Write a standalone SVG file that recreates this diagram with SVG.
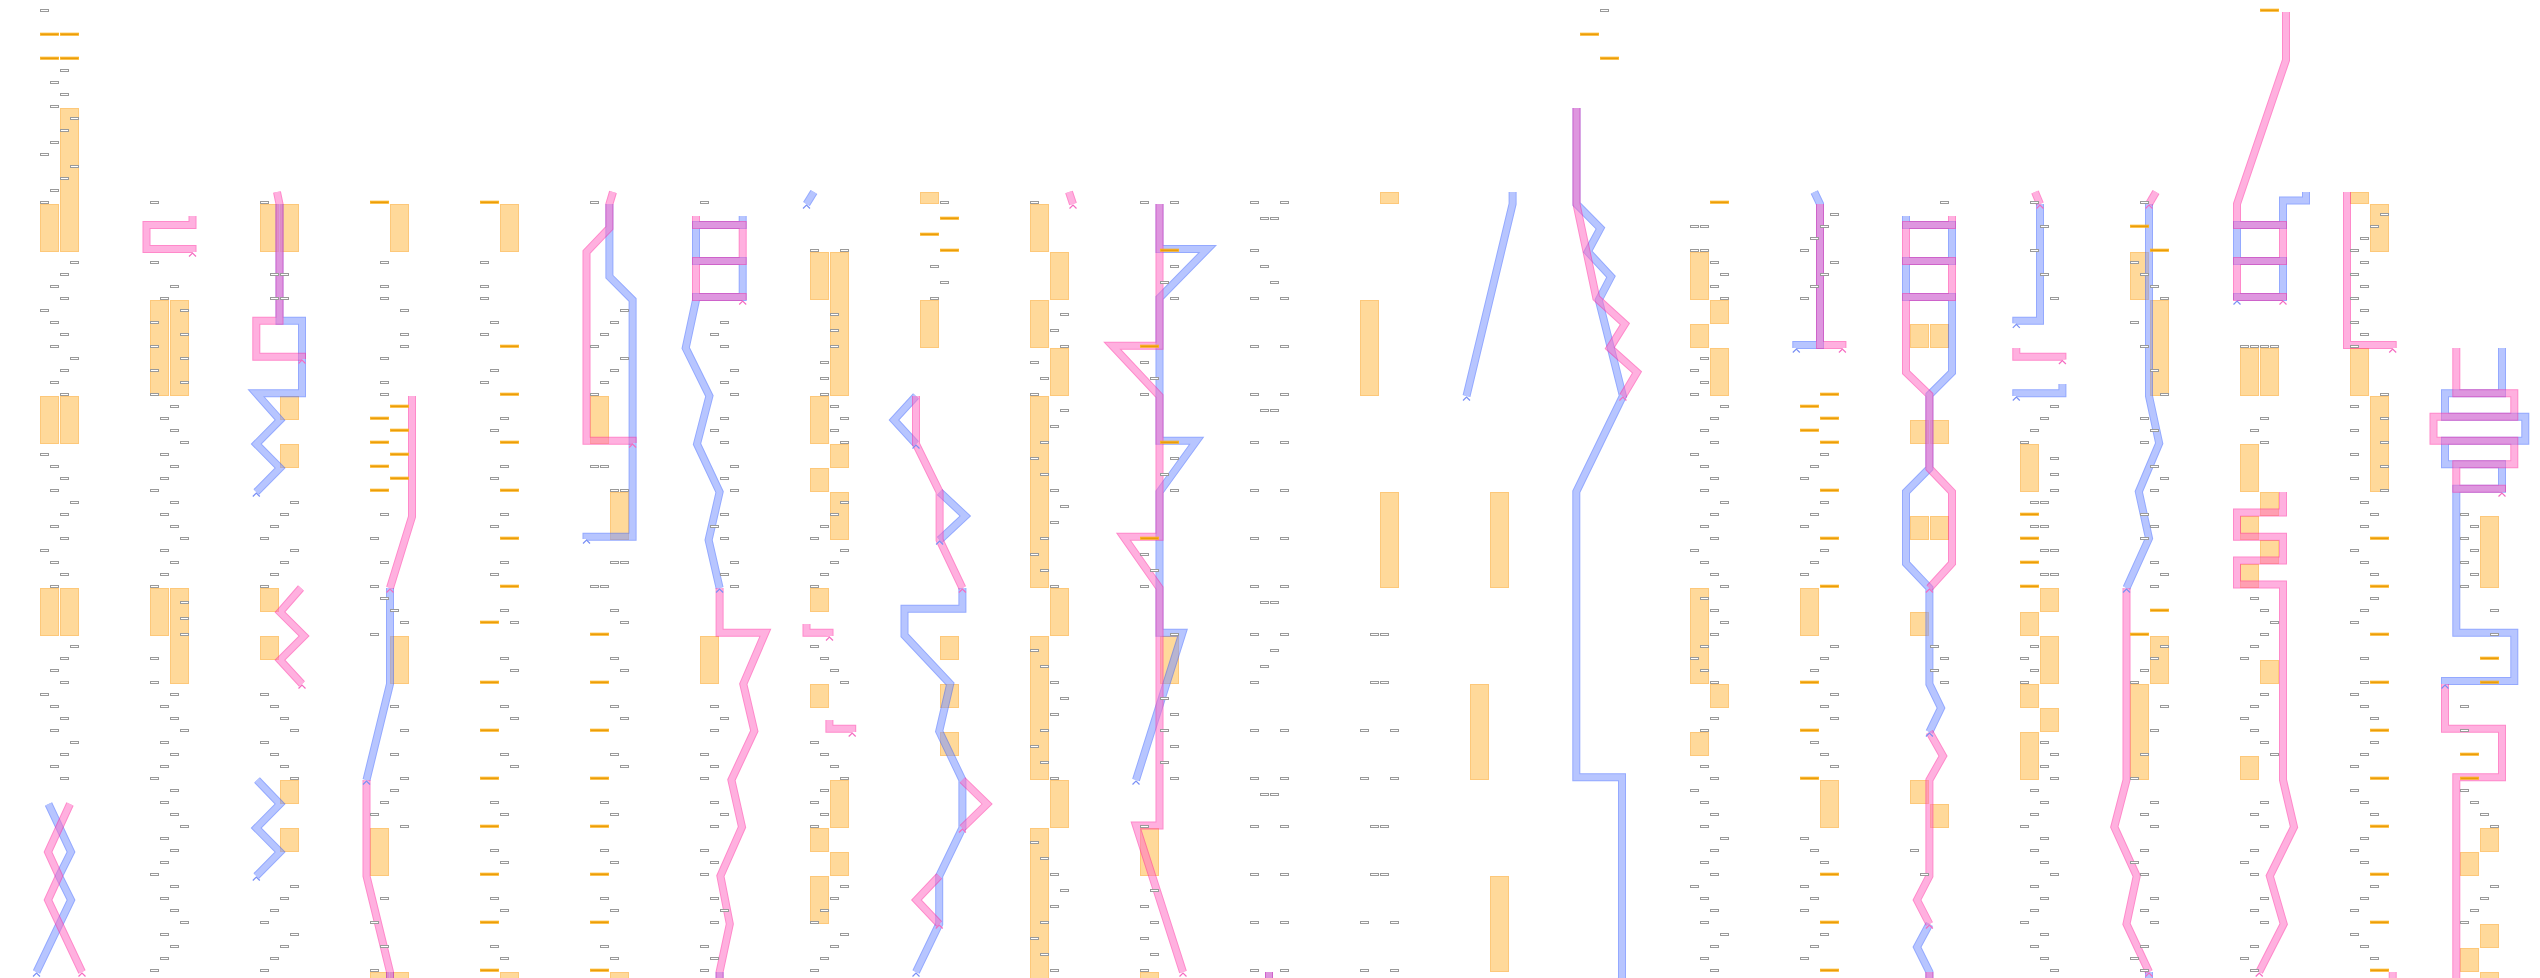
<svg xmlns="http://www.w3.org/2000/svg" xmlns:xlink="http://www.w3.org/1999/xlink" width="2540" height="978" viewBox="0 0 2540 978">
<style>
.tk{fill:#fff;stroke:#9a9a9a;stroke-width:1}
.ot{fill:#e39500;stroke:#fcb320;stroke-width:1}
.b{fill:#ffd99a;stroke:#fdc87a;stroke-width:1}
.pk,.bl{opacity:.55}
.e,.c{fill:none;stroke-linejoin:miter;stroke-miterlimit:3}
.pk .e{stroke:#ff2aa0;stroke-width:8}
.pk .c{stroke:#ff70c6;stroke-width:6}
.bl .e{stroke:#3d64ff;stroke-width:8}
.bl .c{stroke:#7d97ff;stroke-width:6}
.cp{fill:none;stroke:#f56cc2;stroke-width:1.2}
.cb{fill:none;stroke:#7a90f5;stroke-width:1.2}
</style>
<defs>
<rect id="t" x="0.5" y="-0.5" width="8" height="2" class="tk"/>
<rect id="o" x="0.5" y="-0.8" width="18" height="2" class="ot"/>
<path id="cr" d="M-3.5,4.5 L0,1 L3.5,4.5"/>
<path id="b0" d="M48.5,804 L71,852 L59,876 L71,900 L36.5,972"/>
<path id="b2" d="M279.5,204 V320.8 H302 V393.3 H256.3 L280,420 L256.3,444 L280,468 L256.3,492"/>
<path id="b2b" d="M257,780 L280,804 L256.3,828 L280,852 L256.3,876"/>
<path id="b3" d="M390,588 V684 L366.5,780"/>
<path id="b3b" d="M390,972 V990"/>
<path id="b5" d="M609.4,204 V276.7 L632.6,300 V536.8 H586.5 V539"/>
<path id="b6" d="M742.7,216 V225 H696 V261 H742.7 V297 H696 V300 L685.7,348 L709.4,396 L697,444 L719.6,492 L708.6,540 L719.6,588"/>
<path id="b6b" d="M719.6,972 V990"/>
<path id="b7" d="M813.9,192 L806.5,204"/>
<path id="b8a" d="M916,396 L894,420 L916,444"/>
<path id="b8b" d="M939.6,492 L965.3,516 L939.6,540"/>
<path id="b8c" d="M962.4,588 V608.8 H904.5 V635.3 L950.2,684 L939.2,731.3 L962.4,780 V828 L939.2,876 V924 L916,972"/>
<path id="b10" d="M1159.5,204 V249 H1207.5 L1159.5,298 V440.8 H1196.5 L1159.5,492 V632.8 H1182.5 L1136,780"/>
<path id="b11" d="M1269,972 V990"/>
<path id="b13" d="M1512.6,192 V204 L1466.5,396"/>
<path id="b14" d="M1576.5,108 V204 L1600.4,228.3 L1587.8,251.7 L1611,276.7 L1598.8,300 L1622.9,396 L1576.3,491.7 V777.2 H1622 V978 L1618,992"/>
<path id="b16" d="M1814.3,192 L1820,204 V345 H1796.3 V348"/>
<path id="b17" d="M1906,216 V225 H1952 V261 H1906 V297 H1952 V372.3 L1929.4,395 V468.3 L1906,492 V563.3 L1929.4,588 V684 L1941,708 L1929.4,732"/>
<path id="b17b" d="M1929.4,924 L1917,947 L1929.4,972 V990"/>
<path id="b18" d="M2040,204 V320.8 H2016.3 V323.3"/>
<path id="b18b" d="M2062.4,384 V393.3 H2016.3 V396"/>
<path id="b19" d="M2149,204 V396 L2159.2,443.3 L2138.8,491.7 L2149,538.3 L2126.5,588"/>
<path id="b19b" d="M2149,972 V990"/>
<path id="b20" d="M2306,192 V200.5 H2283 V225 H2237 V261 H2283 V297 H2237 V300"/>
<path id="b22" d="M2502,348 V393.3 H2445 V416.8 H2525.3 V440.8 H2445 V464.2 H2502 V488.8 H2456.3 V632.8 H2514.3 V681 H2445 V684"/>
<path id="q0" d="M70,804 L48,852 L59,876 L48,900 L82,972"/>
<path id="q1" d="M192.5,216 V225 H146.5 V249 H192.5 V252"/>
<path id="q2" d="M277,192 L279.5,204 V320.8 H256.3 V356.7 H302 V359"/>
<path id="q2b" d="M301,588 L280,612 L304,636 L280,660 L302,684"/>
<path id="q3" d="M412,396 V516.7 L390,588"/>
<path id="q3b" d="M366.5,780 V876 L390,972 V990"/>
<path id="q5" d="M613,192 L609.4,204 V228 L586.5,252 V440.8 H632.6 V443"/>
<path id="q6" d="M696,216 V225 H742.7 V261 H696 V297 H742.7 V300"/>
<path id="q6b" d="M719.6,588 V632.8 H765.3 L743.3,684 L754.3,731 L731.4,780 L742,827 L720.4,876 L729.8,924 L719.6,972 V990"/>
<path id="q7a" d="M806.5,624 V632.8 H829.5 V636"/>
<path id="q7b" d="M829.4,720 V728.8 H852.2 V732"/>
<path id="q8" d="M916,396 V444 L939.6,492 V540 L962.4,588"/>
<path id="q8b" d="M962.4,780 L987,804 L962.4,828"/>
<path id="q8c" d="M939.2,876 L916.5,900 L939.2,924"/>
<path id="q9" d="M1069,192 L1073,204"/>
<path id="q10" d="M1159.5,204 V345.8 H1112.4 L1159.5,396 V536.8 H1123.6 L1159.5,588 V825.5 H1136 L1183,972"/>
<path id="q11" d="M1269,972 V990"/>
<path id="q14" d="M1576.5,108 V204 L1596.3,298 L1624.9,324 L1609.8,348 L1637,372.3 L1622.9,396"/>
<path id="q16" d="M1820,204 V345 H1842.4 V348"/>
<path id="q17" d="M1952,216 V225 H1906 V261 H1952 V297 H1906 V372.3 L1929.4,395 V468.3 L1952,492 V563.3 L1929.4,588"/>
<path id="q17b" d="M1929.4,732 L1943,756 L1929.4,780 V876 L1917,900 L1929.4,924"/>
<path id="q17c" d="M1929.4,972 V990"/>
<path id="q18" d="M2035,192 L2040,204"/>
<path id="q18b" d="M2016.3,348 V356.7 H2062.4 V359.5"/>
<path id="q19" d="M2156,192 L2149,204"/>
<path id="q19b" d="M2126.5,588 V780 L2114.3,827 L2136.7,876 L2126.5,924 L2149,972"/>
<path id="q20" d="M2286,12 V60 L2237,204 V225 H2283 V261 H2237 V297 H2283 V300"/>
<path id="q20b" d="M2283,492 V512.5 H2237 V536.8 H2283 V560.5 H2237 V584.5 H2283 V780 L2294,827 L2269.8,876 L2283.7,924 L2259.2,972"/>
<path id="q21" d="M2347,192 V345 H2392.7 V348"/>
<path id="q21b" d="M2392.7,972 V990"/>
<path id="q22" d="M2456.3,348 V393.3 H2514.3 V416.8 H2433.5 V440.8 H2514.3 V464.2 H2456.3 V488.8 H2502 V492"/>
<path id="q22b" d="M2445,684 V728.8 H2502 V777.2 H2456.3 V990"/>
</defs>
<rect width="2540" height="978" fill="#fff"/>

<g id="blocks">
<g id="col-00-blocks"><rect class="b" x="60.5" y="108.5" width="18" height="143"/><rect class="b" x="40.5" y="204.5" width="18" height="47"/><rect class="b" x="40.5" y="396.5" width="18" height="47"/><rect class="b" x="60.5" y="396.5" width="18" height="47"/><rect class="b" x="40.5" y="588.5" width="18" height="47"/><rect class="b" x="60.5" y="588.5" width="18" height="47"/></g>
<g id="col-01-blocks"><rect class="b" x="150.5" y="300.5" width="18" height="95"/><rect class="b" x="170.5" y="300.5" width="18" height="95"/><rect class="b" x="150.5" y="588.5" width="18" height="47"/><rect class="b" x="170.5" y="588.5" width="18" height="95"/></g>
<g id="col-02-blocks"><rect class="b" x="260.5" y="204.5" width="18" height="47"/><rect class="b" x="280.5" y="204.5" width="18" height="47"/><rect class="b" x="280.5" y="396.5" width="18" height="23"/><rect class="b" x="280.5" y="444.5" width="18" height="23"/><rect class="b" x="260.5" y="588.5" width="18" height="23"/><rect class="b" x="260.5" y="636.5" width="18" height="23"/><rect class="b" x="280.5" y="780.5" width="18" height="23"/><rect class="b" x="280.5" y="828.5" width="18" height="23"/></g>
<g id="col-03-blocks"><rect class="b" x="390.5" y="204.5" width="18" height="47"/><rect class="b" x="390.5" y="636.5" width="18" height="47"/><rect class="b" x="370.5" y="828.5" width="18" height="47"/><rect class="b" x="370.5" y="972.5" width="18" height="20"/><rect class="b" x="390.5" y="972.5" width="18" height="20"/></g>
<g id="col-04-blocks"><rect class="b" x="500.5" y="204.5" width="18" height="47"/><rect class="b" x="500.5" y="972.5" width="18" height="20"/></g>
<g id="col-05-blocks"><rect class="b" x="590.5" y="396.5" width="18" height="47"/><rect class="b" x="610.5" y="492.5" width="18" height="47"/><rect class="b" x="610.5" y="972.5" width="18" height="20"/></g>
<g id="col-06-blocks"><rect class="b" x="700.5" y="636.5" width="18" height="47"/></g>
<g id="col-07-blocks"><rect class="b" x="810.5" y="252.5" width="18" height="47"/><rect class="b" x="830.5" y="252.5" width="18" height="143"/><rect class="b" x="810.5" y="396.5" width="18" height="47"/><rect class="b" x="830.5" y="444.5" width="18" height="23"/><rect class="b" x="810.5" y="468.5" width="18" height="23"/><rect class="b" x="830.5" y="492.5" width="18" height="47"/><rect class="b" x="810.5" y="588.5" width="18" height="23"/><rect class="b" x="810.5" y="684.5" width="18" height="23"/><rect class="b" x="830.5" y="780.5" width="18" height="47"/><rect class="b" x="810.5" y="828.5" width="18" height="23"/><rect class="b" x="830.5" y="852.5" width="18" height="23"/><rect class="b" x="810.5" y="876.5" width="18" height="47"/></g>
<g id="col-08-blocks"><rect class="b" x="920.5" y="192.5" width="18" height="11"/><rect class="b" x="920.5" y="300.5" width="18" height="47"/><rect class="b" x="940.5" y="636.5" width="18" height="23"/><rect class="b" x="940.5" y="684.5" width="18" height="23"/><rect class="b" x="940.5" y="732.5" width="18" height="23"/></g>
<g id="col-09-blocks"><rect class="b" x="1030.5" y="204.5" width="18" height="47"/><rect class="b" x="1050.5" y="252.5" width="18" height="47"/><rect class="b" x="1030.5" y="300.5" width="18" height="47"/><rect class="b" x="1050.5" y="348.5" width="18" height="47"/><rect class="b" x="1030.5" y="396.5" width="18" height="191"/><rect class="b" x="1050.5" y="588.5" width="18" height="47"/><rect class="b" x="1030.5" y="636.5" width="18" height="143"/><rect class="b" x="1050.5" y="780.5" width="18" height="47"/><rect class="b" x="1030.5" y="828.5" width="18" height="162"/></g>
<g id="col-10-blocks"><rect class="b" x="1160.5" y="636.5" width="18" height="47"/><rect class="b" x="1140.5" y="828.5" width="18" height="47"/><rect class="b" x="1140.5" y="972.5" width="18" height="20"/></g>
<g id="col-12-blocks"><rect class="b" x="1380.5" y="192.5" width="18" height="11"/><rect class="b" x="1360.5" y="300.5" width="18" height="95"/><rect class="b" x="1380.5" y="492.5" width="18" height="95"/></g>
<g id="col-13-blocks"><rect class="b" x="1490.5" y="492.5" width="18" height="95"/><rect class="b" x="1470.5" y="684.5" width="18" height="95"/><rect class="b" x="1490.5" y="876.5" width="18" height="95"/></g>
<g id="col-15-blocks"><rect class="b" x="1690.5" y="252.5" width="18" height="47"/><rect class="b" x="1710.5" y="300.5" width="18" height="23"/><rect class="b" x="1690.5" y="324.5" width="18" height="23"/><rect class="b" x="1710.5" y="348.5" width="18" height="47"/><rect class="b" x="1690.5" y="588.5" width="18" height="95"/><rect class="b" x="1710.5" y="684.5" width="18" height="23"/><rect class="b" x="1690.5" y="732.5" width="18" height="23"/></g>
<g id="col-16-blocks"><rect class="b" x="1800.5" y="588.5" width="18" height="47"/><rect class="b" x="1820.5" y="780.5" width="18" height="47"/></g>
<g id="col-17-blocks"><rect class="b" x="1910.5" y="324.5" width="18" height="23"/><rect class="b" x="1930.5" y="324.5" width="18" height="23"/><rect class="b" x="1910.5" y="420.5" width="18" height="23"/><rect class="b" x="1930.5" y="420.5" width="18" height="23"/><rect class="b" x="1910.5" y="516.5" width="18" height="23"/><rect class="b" x="1930.5" y="516.5" width="18" height="23"/><rect class="b" x="1910.5" y="612.5" width="18" height="23"/><rect class="b" x="1910.5" y="780.5" width="18" height="23"/><rect class="b" x="1930.5" y="804.5" width="18" height="23"/></g>
<g id="col-18-blocks"><rect class="b" x="2020.5" y="444.5" width="18" height="47"/><rect class="b" x="2040.5" y="588.5" width="18" height="23"/><rect class="b" x="2020.5" y="612.5" width="18" height="23"/><rect class="b" x="2040.5" y="636.5" width="18" height="47"/><rect class="b" x="2020.5" y="684.5" width="18" height="23"/><rect class="b" x="2040.5" y="708.5" width="18" height="23"/><rect class="b" x="2020.5" y="732.5" width="18" height="47"/></g>
<g id="col-19-blocks"><rect class="b" x="2130.5" y="252.5" width="18" height="47"/><rect class="b" x="2150.5" y="300.5" width="18" height="95"/><rect class="b" x="2150.5" y="636.5" width="18" height="47"/><rect class="b" x="2130.5" y="684.5" width="18" height="95"/></g>
<g id="col-20-blocks"><rect class="b" x="2240.5" y="348.5" width="18" height="47"/><rect class="b" x="2260.5" y="348.5" width="18" height="47"/><rect class="b" x="2240.5" y="444.5" width="18" height="47"/><rect class="b" x="2260.5" y="492.5" width="18" height="23"/><rect class="b" x="2240.5" y="516.5" width="18" height="23"/><rect class="b" x="2260.5" y="540.5" width="18" height="23"/><rect class="b" x="2240.5" y="564.5" width="18" height="23"/><rect class="b" x="2260.5" y="660.5" width="18" height="23"/><rect class="b" x="2240.5" y="756.5" width="18" height="23"/></g>
<g id="col-21-blocks"><rect class="b" x="2350.5" y="192.5" width="18" height="11"/><rect class="b" x="2370.5" y="204.5" width="18" height="47"/><rect class="b" x="2350.5" y="348.5" width="18" height="47"/><rect class="b" x="2370.5" y="396.5" width="18" height="95"/></g>
<g id="col-22-blocks"><rect class="b" x="2480.5" y="516.5" width="18" height="71"/><rect class="b" x="2480.5" y="828.5" width="18" height="23"/><rect class="b" x="2460.5" y="852.5" width="18" height="23"/><rect class="b" x="2480.5" y="924.5" width="18" height="23"/><rect class="b" x="2460.5" y="948.5" width="18" height="23"/><rect class="b" x="2480.5" y="972.5" width="18" height="20"/></g>
</g>

<g id="connectors">
<g class="bl"><use href="#b0" class="e"/><use href="#b0" class="c"/></g>
<g class="bl"><use href="#b2" class="e"/><use href="#b2" class="c"/></g>
<g class="bl"><use href="#b2b" class="e"/><use href="#b2b" class="c"/></g>
<g class="bl"><use href="#b3" class="e"/><use href="#b3" class="c"/></g>
<g class="bl"><use href="#b3b" class="e"/><use href="#b3b" class="c"/></g>
<g class="bl"><use href="#b5" class="e"/><use href="#b5" class="c"/></g>
<g class="bl"><use href="#b6" class="e"/><use href="#b6" class="c"/></g>
<g class="bl"><use href="#b6b" class="e"/><use href="#b6b" class="c"/></g>
<g class="bl"><use href="#b7" class="e"/><use href="#b7" class="c"/></g>
<g class="bl"><use href="#b8a" class="e"/><use href="#b8a" class="c"/></g>
<g class="bl"><use href="#b8b" class="e"/><use href="#b8b" class="c"/></g>
<g class="bl"><use href="#b8c" class="e"/><use href="#b8c" class="c"/></g>
<g class="bl"><use href="#b10" class="e"/><use href="#b10" class="c"/></g>
<g class="bl"><use href="#b11" class="e"/><use href="#b11" class="c"/></g>
<g class="bl"><use href="#b13" class="e"/><use href="#b13" class="c"/></g>
<g class="bl"><use href="#b14" class="e"/><use href="#b14" class="c"/></g>
<g class="bl"><use href="#b16" class="e"/><use href="#b16" class="c"/></g>
<g class="bl"><use href="#b17" class="e"/><use href="#b17" class="c"/></g>
<g class="bl"><use href="#b17b" class="e"/><use href="#b17b" class="c"/></g>
<g class="bl"><use href="#b18" class="e"/><use href="#b18" class="c"/></g>
<g class="bl"><use href="#b18b" class="e"/><use href="#b18b" class="c"/></g>
<g class="bl"><use href="#b19" class="e"/><use href="#b19" class="c"/></g>
<g class="bl"><use href="#b19b" class="e"/><use href="#b19b" class="c"/></g>
<g class="bl"><use href="#b20" class="e"/><use href="#b20" class="c"/></g>
<g class="bl"><use href="#b22" class="e"/><use href="#b22" class="c"/></g>
<g class="pk"><use href="#q0" class="e"/><use href="#q0" class="c"/></g>
<g class="pk"><use href="#q1" class="e"/><use href="#q1" class="c"/></g>
<g class="pk"><use href="#q2" class="e"/><use href="#q2" class="c"/></g>
<g class="pk"><use href="#q2b" class="e"/><use href="#q2b" class="c"/></g>
<g class="pk"><use href="#q3" class="e"/><use href="#q3" class="c"/></g>
<g class="pk"><use href="#q3b" class="e"/><use href="#q3b" class="c"/></g>
<g class="pk"><use href="#q5" class="e"/><use href="#q5" class="c"/></g>
<g class="pk"><use href="#q6" class="e"/><use href="#q6" class="c"/></g>
<g class="pk"><use href="#q6b" class="e"/><use href="#q6b" class="c"/></g>
<g class="pk"><use href="#q7a" class="e"/><use href="#q7a" class="c"/></g>
<g class="pk"><use href="#q7b" class="e"/><use href="#q7b" class="c"/></g>
<g class="pk"><use href="#q8" class="e"/><use href="#q8" class="c"/></g>
<g class="pk"><use href="#q8b" class="e"/><use href="#q8b" class="c"/></g>
<g class="pk"><use href="#q8c" class="e"/><use href="#q8c" class="c"/></g>
<g class="pk"><use href="#q9" class="e"/><use href="#q9" class="c"/></g>
<g class="pk"><use href="#q10" class="e"/><use href="#q10" class="c"/></g>
<g class="pk"><use href="#q11" class="e"/><use href="#q11" class="c"/></g>
<g class="pk"><use href="#q14" class="e"/><use href="#q14" class="c"/></g>
<g class="pk"><use href="#q16" class="e"/><use href="#q16" class="c"/></g>
<g class="pk"><use href="#q17" class="e"/><use href="#q17" class="c"/></g>
<g class="pk"><use href="#q17b" class="e"/><use href="#q17b" class="c"/></g>
<g class="pk"><use href="#q17c" class="e"/><use href="#q17c" class="c"/></g>
<g class="pk"><use href="#q18" class="e"/><use href="#q18" class="c"/></g>
<g class="pk"><use href="#q18b" class="e"/><use href="#q18b" class="c"/></g>
<g class="pk"><use href="#q19" class="e"/><use href="#q19" class="c"/></g>
<g class="pk"><use href="#q19b" class="e"/><use href="#q19b" class="c"/></g>
<g class="pk"><use href="#q20" class="e"/><use href="#q20" class="c"/></g>
<g class="pk"><use href="#q20b" class="e"/><use href="#q20b" class="c"/></g>
<g class="pk"><use href="#q21" class="e"/><use href="#q21" class="c"/></g>
<g class="pk"><use href="#q21b" class="e"/><use href="#q21b" class="c"/></g>
<g class="pk"><use href="#q22" class="e"/><use href="#q22" class="c"/></g>
<g class="pk"><use href="#q22b" class="e"/><use href="#q22b" class="c"/></g>
<g id="arrowheads">
<use href="#cr" class="cp" x="82" y="972"/><use href="#cr" class="cp" x="192.5" y="252"/><use href="#cr" class="cp" x="302" y="359"/><use href="#cr" class="cp" x="302" y="684"/><use href="#cr" class="cp" x="390" y="588"/><use href="#cr" class="cp" x="632.6" y="443"/><use href="#cr" class="cp" x="742.7" y="300"/><use href="#cr" class="cp" x="829.5" y="636"/><use href="#cr" class="cp" x="852.2" y="732"/><use href="#cr" class="cp" x="962.4" y="588"/><use href="#cr" class="cp" x="962.4" y="828"/><use href="#cr" class="cp" x="939.2" y="924"/><use href="#cr" class="cp" x="1073" y="204"/><use href="#cr" class="cp" x="1183" y="972"/><use href="#cr" class="cp" x="1622.9" y="396"/><use href="#cr" class="cp" x="1842.4" y="348"/><use href="#cr" class="cp" x="1929.4" y="588"/><use href="#cr" class="cp" x="1929.4" y="924"/><use href="#cr" class="cp" x="2040" y="204"/><use href="#cr" class="cp" x="2062.4" y="359.5"/><use href="#cr" class="cp" x="2149" y="204"/><use href="#cr" class="cp" x="2149" y="972"/><use href="#cr" class="cp" x="2283" y="300"/><use href="#cr" class="cp" x="2259.2" y="972"/><use href="#cr" class="cp" x="2392.7" y="348"/><use href="#cr" class="cp" x="2502" y="492"/>
<use href="#cr" class="cb" x="36.5" y="972"/><use href="#cr" class="cb" x="256.3" y="492"/><use href="#cr" class="cb" x="256.3" y="876"/><use href="#cr" class="cb" x="366.5" y="780"/><use href="#cr" class="cb" x="586.5" y="539"/><use href="#cr" class="cb" x="719.6" y="588"/><use href="#cr" class="cb" x="806.5" y="204"/><use href="#cr" class="cb" x="916" y="444"/><use href="#cr" class="cb" x="939.6" y="540"/><use href="#cr" class="cb" x="916" y="972"/><use href="#cr" class="cb" x="1136" y="780"/><use href="#cr" class="cb" x="1466.5" y="396"/><use href="#cr" class="cb" x="1796.3" y="348"/><use href="#cr" class="cb" x="1929.4" y="732"/><use href="#cr" class="cb" x="2016.3" y="323.3"/><use href="#cr" class="cb" x="2016.3" y="396"/><use href="#cr" class="cb" x="2126.5" y="588"/><use href="#cr" class="cb" x="2237" y="300"/><use href="#cr" class="cb" x="2445" y="684"/>
</g>
</g>

<g id="ticks">
<g id="col-00"><use href="#t" x="40" y="10"/><use href="#t" x="60" y="70"/><use href="#t" x="50" y="82"/><use href="#t" x="60" y="94"/><use href="#t" x="50" y="106"/><use href="#t" x="70" y="118"/><use href="#t" x="60" y="130"/><use href="#t" x="50" y="142"/><use href="#t" x="40" y="154"/><use href="#t" x="70" y="166"/><use href="#t" x="60" y="178"/><use href="#t" x="50" y="190"/><use href="#t" x="40" y="202"/><use href="#t" x="70" y="262"/><use href="#t" x="60" y="274"/><use href="#t" x="50" y="286"/><use href="#t" x="60" y="298"/><use href="#t" x="40" y="310"/><use href="#t" x="50" y="322"/><use href="#t" x="60" y="334"/><use href="#t" x="50" y="346"/><use href="#t" x="70" y="358"/><use href="#t" x="60" y="370"/><use href="#t" x="50" y="382"/><use href="#t" x="60" y="394"/><use href="#t" x="40" y="454"/><use href="#t" x="50" y="466"/><use href="#t" x="60" y="478"/><use href="#t" x="50" y="490"/><use href="#t" x="70" y="502"/><use href="#t" x="60" y="514"/><use href="#t" x="50" y="526"/><use href="#t" x="60" y="538"/><use href="#t" x="40" y="550"/><use href="#t" x="50" y="562"/><use href="#t" x="60" y="574"/><use href="#t" x="50" y="586"/><use href="#t" x="70" y="646"/><use href="#t" x="60" y="658"/><use href="#t" x="50" y="670"/><use href="#t" x="60" y="682"/><use href="#t" x="40" y="694"/><use href="#t" x="50" y="706"/><use href="#t" x="60" y="718"/><use href="#t" x="50" y="730"/><use href="#t" x="70" y="742"/><use href="#t" x="60" y="754"/><use href="#t" x="50" y="766"/><use href="#t" x="60" y="778"/><use href="#o" x="40" y="34"/><use href="#o" x="60" y="34"/><use href="#o" x="40" y="58"/><use href="#o" x="60" y="58"/></g>
<g id="col-01"><use href="#t" x="150" y="202"/><use href="#t" x="150" y="262"/><use href="#t" x="170" y="286"/><use href="#t" x="160" y="298"/><use href="#t" x="180" y="310"/><use href="#t" x="150" y="322"/><use href="#t" x="180" y="334"/><use href="#t" x="150" y="346"/><use href="#t" x="180" y="358"/><use href="#t" x="150" y="370"/><use href="#t" x="180" y="382"/><use href="#t" x="150" y="394"/><use href="#t" x="170" y="406"/><use href="#t" x="160" y="418"/><use href="#t" x="170" y="430"/><use href="#t" x="180" y="442"/><use href="#t" x="160" y="454"/><use href="#t" x="170" y="466"/><use href="#t" x="160" y="478"/><use href="#t" x="150" y="490"/><use href="#t" x="170" y="502"/><use href="#t" x="160" y="514"/><use href="#t" x="170" y="526"/><use href="#t" x="180" y="538"/><use href="#t" x="160" y="550"/><use href="#t" x="170" y="562"/><use href="#t" x="160" y="574"/><use href="#t" x="150" y="586"/><use href="#t" x="180" y="602"/><use href="#t" x="180" y="618"/><use href="#t" x="180" y="634"/><use href="#t" x="150" y="658"/><use href="#t" x="150" y="682"/><use href="#t" x="170" y="694"/><use href="#t" x="160" y="706"/><use href="#t" x="170" y="718"/><use href="#t" x="180" y="730"/><use href="#t" x="160" y="742"/><use href="#t" x="170" y="754"/><use href="#t" x="160" y="766"/><use href="#t" x="150" y="778"/><use href="#t" x="170" y="790"/><use href="#t" x="160" y="802"/><use href="#t" x="170" y="814"/><use href="#t" x="180" y="826"/><use href="#t" x="160" y="838"/><use href="#t" x="170" y="850"/><use href="#t" x="160" y="862"/><use href="#t" x="150" y="874"/><use href="#t" x="170" y="886"/><use href="#t" x="160" y="898"/><use href="#t" x="170" y="910"/><use href="#t" x="180" y="922"/><use href="#t" x="160" y="934"/><use href="#t" x="170" y="946"/><use href="#t" x="160" y="958"/><use href="#t" x="150" y="970"/></g>
<g id="col-02"><use href="#t" x="260" y="202"/><use href="#t" x="270" y="274"/><use href="#t" x="280" y="274"/><use href="#t" x="270" y="298"/><use href="#t" x="280" y="298"/><use href="#t" x="290" y="502"/><use href="#t" x="280" y="514"/><use href="#t" x="270" y="526"/><use href="#t" x="260" y="538"/><use href="#t" x="290" y="550"/><use href="#t" x="280" y="562"/><use href="#t" x="270" y="574"/><use href="#t" x="260" y="586"/><use href="#t" x="260" y="694"/><use href="#t" x="270" y="706"/><use href="#t" x="280" y="718"/><use href="#t" x="290" y="730"/><use href="#t" x="260" y="742"/><use href="#t" x="270" y="754"/><use href="#t" x="280" y="766"/><use href="#t" x="290" y="778"/><use href="#t" x="290" y="886"/><use href="#t" x="280" y="898"/><use href="#t" x="270" y="910"/><use href="#t" x="260" y="922"/><use href="#t" x="290" y="934"/><use href="#t" x="280" y="946"/><use href="#t" x="270" y="958"/><use href="#t" x="260" y="970"/></g>
<g id="col-03"><use href="#t" x="380" y="262"/><use href="#t" x="380" y="286"/><use href="#t" x="380" y="298"/><use href="#t" x="400" y="310"/><use href="#t" x="400" y="334"/><use href="#t" x="400" y="346"/><use href="#t" x="380" y="358"/><use href="#t" x="380" y="382"/><use href="#t" x="380" y="394"/><use href="#t" x="380" y="514"/><use href="#t" x="370" y="538"/><use href="#t" x="380" y="562"/><use href="#t" x="370" y="586"/><use href="#t" x="380" y="598"/><use href="#t" x="390" y="610"/><use href="#t" x="400" y="622"/><use href="#t" x="370" y="634"/><use href="#t" x="390" y="706"/><use href="#t" x="400" y="730"/><use href="#t" x="390" y="754"/><use href="#t" x="400" y="778"/><use href="#t" x="390" y="790"/><use href="#t" x="380" y="802"/><use href="#t" x="370" y="814"/><use href="#t" x="400" y="826"/><use href="#t" x="380" y="898"/><use href="#t" x="370" y="922"/><use href="#t" x="380" y="946"/><use href="#t" x="370" y="970"/><use href="#o" x="370" y="202"/><use href="#o" x="390" y="406"/><use href="#o" x="370" y="418"/><use href="#o" x="390" y="430"/><use href="#o" x="370" y="442"/><use href="#o" x="390" y="454"/><use href="#o" x="370" y="466"/><use href="#o" x="390" y="478"/><use href="#o" x="370" y="490"/></g>
<g id="col-04"><use href="#t" x="480" y="262"/><use href="#t" x="480" y="286"/><use href="#t" x="480" y="298"/><use href="#t" x="490" y="322"/><use href="#t" x="480" y="334"/><use href="#t" x="490" y="370"/><use href="#t" x="480" y="382"/><use href="#t" x="500" y="418"/><use href="#t" x="490" y="430"/><use href="#t" x="500" y="466"/><use href="#t" x="490" y="478"/><use href="#t" x="500" y="514"/><use href="#t" x="490" y="526"/><use href="#t" x="500" y="562"/><use href="#t" x="490" y="574"/><use href="#t" x="500" y="610"/><use href="#t" x="510" y="622"/><use href="#t" x="500" y="658"/><use href="#t" x="510" y="670"/><use href="#t" x="500" y="706"/><use href="#t" x="510" y="718"/><use href="#t" x="500" y="754"/><use href="#t" x="510" y="766"/><use href="#t" x="490" y="802"/><use href="#t" x="500" y="814"/><use href="#t" x="490" y="850"/><use href="#t" x="500" y="862"/><use href="#t" x="490" y="898"/><use href="#t" x="500" y="910"/><use href="#t" x="490" y="946"/><use href="#t" x="500" y="958"/><use href="#o" x="480" y="202"/><use href="#o" x="500" y="346"/><use href="#o" x="500" y="394"/><use href="#o" x="500" y="442"/><use href="#o" x="500" y="490"/><use href="#o" x="500" y="538"/><use href="#o" x="500" y="586"/><use href="#o" x="480" y="622"/><use href="#o" x="480" y="682"/><use href="#o" x="480" y="730"/><use href="#o" x="480" y="778"/><use href="#o" x="480" y="826"/><use href="#o" x="480" y="874"/><use href="#o" x="480" y="922"/><use href="#o" x="480" y="970"/></g>
<g id="col-05"><use href="#t" x="590" y="202"/><use href="#t" x="620" y="310"/><use href="#t" x="610" y="322"/><use href="#t" x="600" y="334"/><use href="#t" x="590" y="346"/><use href="#t" x="620" y="358"/><use href="#t" x="610" y="370"/><use href="#t" x="600" y="382"/><use href="#t" x="590" y="394"/><use href="#t" x="590" y="466"/><use href="#t" x="600" y="466"/><use href="#t" x="610" y="490"/><use href="#t" x="620" y="490"/><use href="#t" x="610" y="562"/><use href="#t" x="620" y="562"/><use href="#t" x="590" y="586"/><use href="#t" x="600" y="586"/><use href="#t" x="610" y="610"/><use href="#t" x="620" y="622"/><use href="#t" x="610" y="658"/><use href="#t" x="620" y="670"/><use href="#t" x="610" y="706"/><use href="#t" x="620" y="718"/><use href="#t" x="610" y="754"/><use href="#t" x="620" y="766"/><use href="#t" x="600" y="802"/><use href="#t" x="610" y="814"/><use href="#t" x="600" y="850"/><use href="#t" x="610" y="862"/><use href="#t" x="600" y="898"/><use href="#t" x="610" y="910"/><use href="#t" x="600" y="946"/><use href="#t" x="610" y="958"/><use href="#o" x="590" y="634"/><use href="#o" x="590" y="682"/><use href="#o" x="590" y="730"/><use href="#o" x="590" y="778"/><use href="#o" x="590" y="826"/><use href="#o" x="590" y="874"/><use href="#o" x="590" y="922"/><use href="#o" x="590" y="970"/></g>
<g id="col-06"><use href="#t" x="700" y="202"/><use href="#t" x="720" y="322"/><use href="#t" x="710" y="334"/><use href="#t" x="720" y="346"/><use href="#t" x="730" y="370"/><use href="#t" x="720" y="382"/><use href="#t" x="730" y="394"/><use href="#t" x="720" y="418"/><use href="#t" x="710" y="430"/><use href="#t" x="720" y="442"/><use href="#t" x="730" y="466"/><use href="#t" x="720" y="478"/><use href="#t" x="730" y="490"/><use href="#t" x="720" y="514"/><use href="#t" x="710" y="526"/><use href="#t" x="720" y="538"/><use href="#t" x="730" y="562"/><use href="#t" x="720" y="574"/><use href="#t" x="730" y="586"/><use href="#t" x="710" y="706"/><use href="#t" x="720" y="718"/><use href="#t" x="710" y="730"/><use href="#t" x="700" y="754"/><use href="#t" x="710" y="766"/><use href="#t" x="700" y="778"/><use href="#t" x="710" y="802"/><use href="#t" x="720" y="814"/><use href="#t" x="710" y="826"/><use href="#t" x="700" y="850"/><use href="#t" x="710" y="862"/><use href="#t" x="700" y="874"/><use href="#t" x="710" y="898"/><use href="#t" x="720" y="910"/><use href="#t" x="710" y="922"/><use href="#t" x="700" y="946"/><use href="#t" x="710" y="958"/><use href="#t" x="700" y="970"/></g>
<g id="col-07"><use href="#t" x="810" y="250"/><use href="#t" x="840" y="250"/><use href="#t" x="830" y="314"/><use href="#t" x="830" y="330"/><use href="#t" x="830" y="346"/><use href="#t" x="820" y="362"/><use href="#t" x="820" y="378"/><use href="#t" x="820" y="394"/><use href="#t" x="830" y="406"/><use href="#t" x="840" y="418"/><use href="#t" x="830" y="430"/><use href="#t" x="840" y="442"/><use href="#t" x="840" y="502"/><use href="#t" x="830" y="514"/><use href="#t" x="820" y="526"/><use href="#t" x="810" y="538"/><use href="#t" x="840" y="550"/><use href="#t" x="830" y="562"/><use href="#t" x="820" y="574"/><use href="#t" x="810" y="586"/><use href="#t" x="810" y="646"/><use href="#t" x="820" y="658"/><use href="#t" x="830" y="670"/><use href="#t" x="840" y="682"/><use href="#t" x="810" y="742"/><use href="#t" x="820" y="754"/><use href="#t" x="830" y="766"/><use href="#t" x="840" y="778"/><use href="#t" x="820" y="790"/><use href="#t" x="810" y="802"/><use href="#t" x="820" y="814"/><use href="#t" x="810" y="826"/><use href="#t" x="840" y="886"/><use href="#t" x="830" y="898"/><use href="#t" x="820" y="910"/><use href="#t" x="810" y="922"/><use href="#t" x="840" y="934"/><use href="#t" x="830" y="946"/><use href="#t" x="820" y="958"/><use href="#t" x="810" y="970"/></g>
<g id="col-08"><use href="#t" x="940" y="202"/><use href="#t" x="930" y="266"/><use href="#t" x="940" y="282"/><use href="#t" x="930" y="298"/><use href="#o" x="940" y="218"/><use href="#o" x="920" y="234"/><use href="#o" x="940" y="250"/></g>
<g id="col-09"><use href="#t" x="1030" y="202"/><use href="#t" x="1060" y="314"/><use href="#t" x="1050" y="330"/><use href="#t" x="1060" y="346"/><use href="#t" x="1030" y="362"/><use href="#t" x="1040" y="378"/><use href="#t" x="1030" y="394"/><use href="#t" x="1060" y="410"/><use href="#t" x="1050" y="426"/><use href="#t" x="1040" y="442"/><use href="#t" x="1030" y="458"/><use href="#t" x="1040" y="474"/><use href="#t" x="1050" y="490"/><use href="#t" x="1060" y="506"/><use href="#t" x="1050" y="522"/><use href="#t" x="1040" y="538"/><use href="#t" x="1030" y="554"/><use href="#t" x="1040" y="570"/><use href="#t" x="1050" y="586"/><use href="#t" x="1030" y="650"/><use href="#t" x="1040" y="666"/><use href="#t" x="1050" y="682"/><use href="#t" x="1060" y="698"/><use href="#t" x="1050" y="714"/><use href="#t" x="1040" y="730"/><use href="#t" x="1030" y="746"/><use href="#t" x="1040" y="762"/><use href="#t" x="1050" y="778"/><use href="#t" x="1030" y="842"/><use href="#t" x="1040" y="858"/><use href="#t" x="1050" y="874"/><use href="#t" x="1060" y="890"/><use href="#t" x="1050" y="906"/><use href="#t" x="1040" y="922"/><use href="#t" x="1030" y="938"/><use href="#t" x="1040" y="954"/><use href="#t" x="1050" y="970"/></g>
<g id="col-10"><use href="#t" x="1140" y="202"/><use href="#t" x="1170" y="202"/><use href="#t" x="1170" y="266"/><use href="#t" x="1160" y="282"/><use href="#t" x="1170" y="298"/><use href="#t" x="1140" y="362"/><use href="#t" x="1150" y="378"/><use href="#t" x="1140" y="394"/><use href="#t" x="1170" y="458"/><use href="#t" x="1160" y="474"/><use href="#t" x="1170" y="490"/><use href="#t" x="1140" y="554"/><use href="#t" x="1150" y="570"/><use href="#t" x="1140" y="586"/><use href="#t" x="1170" y="634"/><use href="#t" x="1160" y="698"/><use href="#t" x="1170" y="714"/><use href="#t" x="1160" y="730"/><use href="#t" x="1170" y="746"/><use href="#t" x="1160" y="762"/><use href="#t" x="1170" y="778"/><use href="#t" x="1140" y="826"/><use href="#t" x="1150" y="890"/><use href="#t" x="1140" y="906"/><use href="#t" x="1150" y="922"/><use href="#t" x="1140" y="938"/><use href="#t" x="1150" y="954"/><use href="#t" x="1140" y="970"/><use href="#o" x="1160" y="250"/><use href="#o" x="1140" y="346"/><use href="#o" x="1160" y="442"/><use href="#o" x="1140" y="538"/></g>
<g id="col-11"><use href="#t" x="1250" y="202"/><use href="#t" x="1280" y="202"/><use href="#t" x="1260" y="218"/><use href="#t" x="1270" y="218"/><use href="#t" x="1250" y="250"/><use href="#t" x="1260" y="266"/><use href="#t" x="1270" y="282"/><use href="#t" x="1250" y="298"/><use href="#t" x="1280" y="298"/><use href="#t" x="1250" y="346"/><use href="#t" x="1280" y="346"/><use href="#t" x="1250" y="394"/><use href="#t" x="1280" y="394"/><use href="#t" x="1260" y="410"/><use href="#t" x="1270" y="410"/><use href="#t" x="1250" y="442"/><use href="#t" x="1280" y="442"/><use href="#t" x="1250" y="490"/><use href="#t" x="1280" y="490"/><use href="#t" x="1250" y="538"/><use href="#t" x="1280" y="538"/><use href="#t" x="1250" y="586"/><use href="#t" x="1280" y="586"/><use href="#t" x="1260" y="602"/><use href="#t" x="1270" y="602"/><use href="#t" x="1250" y="634"/><use href="#t" x="1280" y="634"/><use href="#t" x="1270" y="650"/><use href="#t" x="1260" y="666"/><use href="#t" x="1250" y="682"/><use href="#t" x="1250" y="730"/><use href="#t" x="1280" y="730"/><use href="#t" x="1250" y="778"/><use href="#t" x="1280" y="778"/><use href="#t" x="1260" y="794"/><use href="#t" x="1270" y="794"/><use href="#t" x="1250" y="826"/><use href="#t" x="1280" y="826"/><use href="#t" x="1250" y="874"/><use href="#t" x="1280" y="874"/><use href="#t" x="1250" y="922"/><use href="#t" x="1280" y="922"/><use href="#t" x="1250" y="970"/><use href="#t" x="1280" y="970"/></g>
<g id="col-12"><use href="#t" x="1370" y="634"/><use href="#t" x="1380" y="634"/><use href="#t" x="1370" y="682"/><use href="#t" x="1380" y="682"/><use href="#t" x="1360" y="730"/><use href="#t" x="1390" y="730"/><use href="#t" x="1360" y="778"/><use href="#t" x="1390" y="778"/><use href="#t" x="1370" y="826"/><use href="#t" x="1380" y="826"/><use href="#t" x="1370" y="874"/><use href="#t" x="1380" y="874"/><use href="#t" x="1360" y="922"/><use href="#t" x="1390" y="922"/><use href="#t" x="1360" y="970"/><use href="#t" x="1390" y="970"/></g>
<g id="col-14"><use href="#t" x="1600" y="10"/><use href="#o" x="1580" y="34"/><use href="#o" x="1600" y="58"/></g>
<g id="col-15"><use href="#t" x="1690" y="226"/><use href="#t" x="1700" y="226"/><use href="#t" x="1690" y="250"/><use href="#t" x="1700" y="250"/><use href="#t" x="1710" y="262"/><use href="#t" x="1720" y="274"/><use href="#t" x="1710" y="286"/><use href="#t" x="1720" y="298"/><use href="#t" x="1700" y="358"/><use href="#t" x="1690" y="370"/><use href="#t" x="1700" y="382"/><use href="#t" x="1690" y="394"/><use href="#t" x="1720" y="406"/><use href="#t" x="1710" y="418"/><use href="#t" x="1700" y="430"/><use href="#t" x="1710" y="442"/><use href="#t" x="1690" y="454"/><use href="#t" x="1700" y="466"/><use href="#t" x="1710" y="478"/><use href="#t" x="1700" y="490"/><use href="#t" x="1720" y="502"/><use href="#t" x="1710" y="514"/><use href="#t" x="1700" y="526"/><use href="#t" x="1710" y="538"/><use href="#t" x="1690" y="550"/><use href="#t" x="1700" y="562"/><use href="#t" x="1710" y="574"/><use href="#t" x="1720" y="586"/><use href="#t" x="1700" y="598"/><use href="#t" x="1710" y="610"/><use href="#t" x="1720" y="622"/><use href="#t" x="1710" y="634"/><use href="#t" x="1700" y="646"/><use href="#t" x="1690" y="658"/><use href="#t" x="1700" y="670"/><use href="#t" x="1710" y="682"/><use href="#t" x="1710" y="718"/><use href="#t" x="1700" y="730"/><use href="#t" x="1700" y="766"/><use href="#t" x="1710" y="778"/><use href="#t" x="1690" y="790"/><use href="#t" x="1700" y="802"/><use href="#t" x="1710" y="814"/><use href="#t" x="1700" y="826"/><use href="#t" x="1720" y="838"/><use href="#t" x="1710" y="850"/><use href="#t" x="1700" y="862"/><use href="#t" x="1710" y="874"/><use href="#t" x="1690" y="886"/><use href="#t" x="1700" y="898"/><use href="#t" x="1710" y="910"/><use href="#t" x="1700" y="922"/><use href="#t" x="1720" y="934"/><use href="#t" x="1710" y="946"/><use href="#t" x="1700" y="958"/><use href="#t" x="1710" y="970"/><use href="#o" x="1710" y="202"/></g>
<g id="col-16"><use href="#t" x="1830" y="214"/><use href="#t" x="1820" y="226"/><use href="#t" x="1810" y="238"/><use href="#t" x="1800" y="250"/><use href="#t" x="1830" y="262"/><use href="#t" x="1820" y="274"/><use href="#t" x="1810" y="286"/><use href="#t" x="1800" y="298"/><use href="#t" x="1820" y="454"/><use href="#t" x="1810" y="466"/><use href="#t" x="1800" y="478"/><use href="#t" x="1820" y="502"/><use href="#t" x="1810" y="514"/><use href="#t" x="1800" y="526"/><use href="#t" x="1820" y="550"/><use href="#t" x="1810" y="562"/><use href="#t" x="1800" y="574"/><use href="#t" x="1830" y="646"/><use href="#t" x="1820" y="658"/><use href="#t" x="1810" y="670"/><use href="#t" x="1830" y="694"/><use href="#t" x="1820" y="706"/><use href="#t" x="1830" y="718"/><use href="#t" x="1810" y="742"/><use href="#t" x="1820" y="754"/><use href="#t" x="1830" y="766"/><use href="#t" x="1800" y="838"/><use href="#t" x="1810" y="850"/><use href="#t" x="1820" y="862"/><use href="#t" x="1800" y="886"/><use href="#t" x="1810" y="898"/><use href="#t" x="1800" y="910"/><use href="#t" x="1820" y="934"/><use href="#t" x="1810" y="946"/><use href="#t" x="1800" y="958"/><use href="#o" x="1820" y="394"/><use href="#o" x="1800" y="406"/><use href="#o" x="1820" y="418"/><use href="#o" x="1800" y="430"/><use href="#o" x="1820" y="442"/><use href="#o" x="1820" y="490"/><use href="#o" x="1820" y="538"/><use href="#o" x="1820" y="586"/><use href="#o" x="1800" y="682"/><use href="#o" x="1800" y="730"/><use href="#o" x="1800" y="778"/><use href="#o" x="1820" y="874"/><use href="#o" x="1820" y="922"/><use href="#o" x="1820" y="970"/></g>
<g id="col-17"><use href="#t" x="1940" y="202"/><use href="#t" x="1930" y="646"/><use href="#t" x="1940" y="658"/><use href="#t" x="1930" y="670"/><use href="#t" x="1940" y="682"/><use href="#t" x="1910" y="850"/><use href="#t" x="1920" y="874"/></g>
<g id="col-18"><use href="#t" x="2030" y="202"/><use href="#t" x="2040" y="226"/><use href="#t" x="2030" y="250"/><use href="#t" x="2040" y="274"/><use href="#t" x="2050" y="298"/><use href="#t" x="2050" y="406"/><use href="#t" x="2040" y="418"/><use href="#t" x="2030" y="430"/><use href="#t" x="2020" y="442"/><use href="#t" x="2050" y="458"/><use href="#t" x="2050" y="474"/><use href="#t" x="2050" y="490"/><use href="#t" x="2030" y="502"/><use href="#t" x="2040" y="502"/><use href="#t" x="2030" y="526"/><use href="#t" x="2040" y="526"/><use href="#t" x="2040" y="550"/><use href="#t" x="2050" y="550"/><use href="#t" x="2040" y="574"/><use href="#t" x="2050" y="574"/><use href="#t" x="2030" y="646"/><use href="#t" x="2020" y="658"/><use href="#t" x="2030" y="670"/><use href="#t" x="2020" y="682"/><use href="#t" x="2040" y="742"/><use href="#t" x="2050" y="754"/><use href="#t" x="2040" y="766"/><use href="#t" x="2050" y="778"/><use href="#t" x="2030" y="790"/><use href="#t" x="2040" y="802"/><use href="#t" x="2030" y="814"/><use href="#t" x="2020" y="826"/><use href="#t" x="2040" y="838"/><use href="#t" x="2030" y="850"/><use href="#t" x="2040" y="862"/><use href="#t" x="2050" y="874"/><use href="#t" x="2030" y="886"/><use href="#t" x="2040" y="898"/><use href="#t" x="2030" y="910"/><use href="#t" x="2020" y="922"/><use href="#t" x="2040" y="934"/><use href="#t" x="2030" y="946"/><use href="#t" x="2040" y="958"/><use href="#t" x="2050" y="970"/><use href="#o" x="2020" y="514"/><use href="#o" x="2020" y="538"/><use href="#o" x="2020" y="562"/><use href="#o" x="2020" y="586"/></g>
<g id="col-19"><use href="#t" x="2140" y="202"/><use href="#t" x="2130" y="262"/><use href="#t" x="2140" y="274"/><use href="#t" x="2150" y="286"/><use href="#t" x="2160" y="298"/><use href="#t" x="2130" y="322"/><use href="#t" x="2140" y="346"/><use href="#t" x="2150" y="370"/><use href="#t" x="2160" y="394"/><use href="#t" x="2140" y="418"/><use href="#t" x="2150" y="430"/><use href="#t" x="2140" y="442"/><use href="#t" x="2150" y="466"/><use href="#t" x="2160" y="478"/><use href="#t" x="2150" y="490"/><use href="#t" x="2140" y="514"/><use href="#t" x="2150" y="526"/><use href="#t" x="2140" y="538"/><use href="#t" x="2150" y="562"/><use href="#t" x="2160" y="574"/><use href="#t" x="2150" y="586"/><use href="#t" x="2160" y="646"/><use href="#t" x="2150" y="658"/><use href="#t" x="2140" y="670"/><use href="#t" x="2130" y="682"/><use href="#t" x="2160" y="706"/><use href="#t" x="2150" y="730"/><use href="#t" x="2140" y="754"/><use href="#t" x="2130" y="778"/><use href="#t" x="2150" y="802"/><use href="#t" x="2140" y="814"/><use href="#t" x="2150" y="826"/><use href="#t" x="2140" y="850"/><use href="#t" x="2130" y="862"/><use href="#t" x="2140" y="874"/><use href="#t" x="2150" y="898"/><use href="#t" x="2140" y="910"/><use href="#t" x="2150" y="922"/><use href="#t" x="2140" y="946"/><use href="#t" x="2130" y="958"/><use href="#t" x="2140" y="970"/><use href="#o" x="2130" y="226"/><use href="#o" x="2150" y="250"/><use href="#o" x="2150" y="610"/><use href="#o" x="2130" y="634"/></g>
<g id="col-20"><use href="#t" x="2240" y="346"/><use href="#t" x="2250" y="346"/><use href="#t" x="2260" y="346"/><use href="#t" x="2270" y="346"/><use href="#t" x="2260" y="418"/><use href="#t" x="2250" y="430"/><use href="#t" x="2260" y="442"/><use href="#t" x="2250" y="598"/><use href="#t" x="2260" y="610"/><use href="#t" x="2270" y="622"/><use href="#t" x="2260" y="634"/><use href="#t" x="2250" y="646"/><use href="#t" x="2240" y="658"/><use href="#t" x="2260" y="694"/><use href="#t" x="2250" y="706"/><use href="#t" x="2240" y="718"/><use href="#t" x="2250" y="730"/><use href="#t" x="2260" y="742"/><use href="#t" x="2270" y="754"/><use href="#t" x="2260" y="802"/><use href="#t" x="2250" y="814"/><use href="#t" x="2260" y="826"/><use href="#t" x="2250" y="850"/><use href="#t" x="2240" y="862"/><use href="#t" x="2250" y="874"/><use href="#t" x="2260" y="898"/><use href="#t" x="2250" y="910"/><use href="#t" x="2260" y="922"/><use href="#t" x="2250" y="946"/><use href="#t" x="2240" y="958"/><use href="#t" x="2250" y="970"/><use href="#o" x="2260" y="10"/></g>
<g id="col-21"><use href="#t" x="2380" y="214"/><use href="#t" x="2370" y="226"/><use href="#t" x="2360" y="238"/><use href="#t" x="2350" y="250"/><use href="#t" x="2360" y="262"/><use href="#t" x="2350" y="274"/><use href="#t" x="2360" y="286"/><use href="#t" x="2350" y="298"/><use href="#t" x="2360" y="310"/><use href="#t" x="2350" y="322"/><use href="#t" x="2360" y="334"/><use href="#t" x="2350" y="346"/><use href="#t" x="2380" y="394"/><use href="#t" x="2350" y="406"/><use href="#t" x="2380" y="418"/><use href="#t" x="2350" y="430"/><use href="#t" x="2380" y="442"/><use href="#t" x="2350" y="454"/><use href="#t" x="2380" y="466"/><use href="#t" x="2350" y="478"/><use href="#t" x="2380" y="490"/><use href="#t" x="2360" y="502"/><use href="#t" x="2370" y="514"/><use href="#t" x="2360" y="526"/><use href="#t" x="2350" y="550"/><use href="#t" x="2360" y="562"/><use href="#t" x="2370" y="574"/><use href="#t" x="2370" y="598"/><use href="#t" x="2360" y="610"/><use href="#t" x="2350" y="622"/><use href="#t" x="2360" y="658"/><use href="#t" x="2360" y="682"/><use href="#t" x="2350" y="694"/><use href="#t" x="2360" y="706"/><use href="#t" x="2370" y="718"/><use href="#t" x="2370" y="742"/><use href="#t" x="2360" y="754"/><use href="#t" x="2350" y="766"/><use href="#t" x="2350" y="790"/><use href="#t" x="2360" y="802"/><use href="#t" x="2370" y="814"/><use href="#t" x="2360" y="838"/><use href="#t" x="2350" y="850"/><use href="#t" x="2360" y="862"/><use href="#t" x="2370" y="886"/><use href="#t" x="2360" y="898"/><use href="#t" x="2350" y="910"/><use href="#t" x="2350" y="934"/><use href="#t" x="2360" y="946"/><use href="#t" x="2370" y="958"/><use href="#o" x="2370" y="538"/><use href="#o" x="2370" y="586"/><use href="#o" x="2370" y="634"/><use href="#o" x="2370" y="682"/><use href="#o" x="2370" y="730"/><use href="#o" x="2370" y="778"/><use href="#o" x="2370" y="826"/><use href="#o" x="2370" y="874"/><use href="#o" x="2370" y="922"/><use href="#o" x="2370" y="970"/></g>
<g id="col-22"><use href="#t" x="2460" y="514"/><use href="#t" x="2470" y="526"/><use href="#t" x="2460" y="538"/><use href="#t" x="2470" y="550"/><use href="#t" x="2460" y="562"/><use href="#t" x="2470" y="574"/><use href="#t" x="2460" y="586"/><use href="#t" x="2490" y="610"/><use href="#t" x="2490" y="634"/><use href="#t" x="2460" y="706"/><use href="#t" x="2460" y="730"/><use href="#t" x="2460" y="790"/><use href="#t" x="2470" y="802"/><use href="#t" x="2480" y="814"/><use href="#t" x="2490" y="826"/><use href="#t" x="2490" y="886"/><use href="#t" x="2480" y="898"/><use href="#t" x="2470" y="910"/><use href="#t" x="2460" y="922"/><use href="#o" x="2480" y="658"/><use href="#o" x="2480" y="682"/><use href="#o" x="2460" y="754"/><use href="#o" x="2460" y="778"/></g>
</g>
</svg>
